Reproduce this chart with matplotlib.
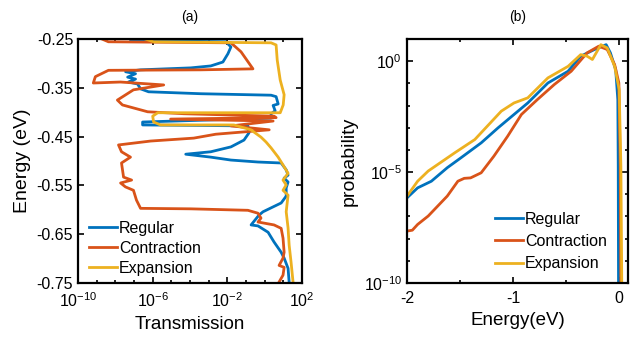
import numpy as np
import matplotlib
matplotlib.use("Agg")
import matplotlib.pyplot as plt
from matplotlib.ticker import LogLocator, NullFormatter, FixedLocator

plt.rcParams['font.family'] = ['Liberation Sans', 'DejaVu Sans']
plt.rcParams['axes.unicode_minus'] = False

# ---------------------------------------------------------
# data
# ---------------------------------------------------------
labels = ["Regular", "Contraction", "Expansion"]
colors = ["#0072BD", "#D95319", "#EDB120"]

# (a) energy (eV) vs log10(transmission)
reg_E = [-0.2525, -0.2555, -0.266, -0.280, -0.297, -0.305, -0.309, -0.311, -0.313,
         -0.317, -0.321, -0.328, -0.332, -0.338, -0.342, -0.352, -0.358, -0.362, -0.365,
         -0.368, -0.383, -0.386, -0.397, -0.403, -0.412, -0.420, -0.426, -0.427, -0.428,
         -0.442, -0.457, -0.471, -0.481, -0.486, -0.492, -0.498, -0.502, -0.504, -0.518,
         -0.529, -0.535, -0.543, -0.555, -0.572, -0.586, -0.596, -0.604, -0.611, -0.631,
         -0.633, -0.646, -0.666, -0.687, -0.699, -0.720, -0.749]
reg_logT = [-7.18, -2.08, -1.81, -1.97, -2.24, -2.89, -3.96, -5.31, -6.65,
            -7.45, -6.92, -7.34, -6.92, -7.30, -6.81, -6.65, -6.22, -3.42, 0.34,
            0.61, 0.72, 0.45, 0.56, 0.34, 0.34, -6.54, -6.54, -3.42, -0.90,
            -0.84, -1.11, -1.81, -2.89, -4.23, -2.89, -1.81, -0.36, 0.88, 1.15,
            1.25, 1.04, 1.25, 1.15, 1.15, 0.88, 0.34, -0.09, -0.31, -0.73,
            -0.36, 0.18, 0.50, 0.88, 1.04, 1.25, 1.31]

con_E = [-0.250, -0.2555, -0.2576, -0.276, -0.311, -0.313, -0.314, -0.327, -0.340,
         -0.338, -0.344, -0.354, -0.375, -0.385, -0.399, -0.403, -0.408, -0.411,
         -0.414, -0.418, -0.428, -0.436, -0.445, -0.453, -0.459, -0.467, -0.481,
         -0.492, -0.504, -0.533, -0.539, -0.545, -0.553, -0.560, -0.580, -0.597,
         -0.598, -0.601, -0.607, -0.617, -0.625, -0.631, -0.638, -0.658, -0.687,
         -0.699, -0.714, -0.718, -0.734, -0.748]
con_logT = [-8.71, -8.37, -1.81, -1.27, -0.63, -3.42, -8.37, -9.07, -9.18,
            -7.73, -5.41, -7.03, -7.89, -7.62, -6.27, -4.34, 0.50, 0.61,
            -5.04, 0.45, -1.81, 0.24, -2.62, -3.80, -6.11, -7.83, -7.67,
            -7.19, -7.67, -7.56, -7.13, -7.72, -7.46, -7.03, -6.87, -6.65,
            -3.96, -0.90, -0.36, -0.20, -0.36, 0.50, 0.88, 0.98, 1.04,
            0.98, 0.77, 1.04, 0.98, 0.77]

exp_E = [-0.250, -0.2555, -0.2576, -0.262, -0.293, -0.334, -0.364, -0.385, -0.401,
         -0.401, -0.408, -0.420, -0.426, -0.426, -0.436, -0.451, -0.461, -0.473,
         -0.492, -0.508, -0.525, -0.539, -0.549, -0.560, -0.570, -0.604, -0.637,
         -0.673, -0.707, -0.749]
exp_logT = [-6.38, -5.95, 0.34, 0.61, 0.67, 0.83, 1.04, 0.99, 0.83,
            -5.73, -6.00, -5.95, -5.58, -1.65, -0.74, -0.20, 0.07, 0.34,
            0.72, 0.98, 1.25, 0.98, 1.15, 0.98, 1.25, 1.15, 1.25,
            1.31, 1.41, 1.52]

# (b) energy (eV) vs log10(probability)
reg_x = [-2.00, -1.90, -1.77, -1.62, -1.49, -1.30, -1.14, -0.99, -0.86, -0.67,
         -0.48, -0.36, -0.23, -0.12, -0.08, -0.03, -0.01, -0.006, -0.003]
reg_logP = [-6.16, -5.71, -5.41, -4.80, -4.35, -3.68, -3.00, -2.40, -1.88, -0.98,
            -0.45, 0.23, 0.53, 0.75, 0.38, -0.38, -1.73, -4.73, -10.5]

con_x = [-2.00, -1.95, -1.90, -1.80, -1.71, -1.62, -1.52, -1.46, -1.40, -1.30,
         -1.18, -1.05, -0.92, -0.77, -0.61, -0.45, -0.30, -0.19, -0.11, -0.04,
         0.00, 0.013, 0.019]
con_logP = [-7.66, -7.62, -7.36, -6.98, -6.53, -6.08, -5.41, -5.28, -5.26, -5.03,
            -4.28, -3.38, -2.40, -1.73, -1.05, -0.45, 0.38, 0.68, 0.53, -0.15,
            -0.98, -4.73, -10.5]

exp_x = [-2.00, -1.90, -1.80, -1.55, -1.36, -1.11, -0.99, -0.86, -0.67, -0.48,
         -0.36, -0.30, -0.25, -0.17, -0.11, -0.04, 0.003, 0.019, 0.028]
exp_logP = [-6.08, -5.41, -4.95, -4.13, -3.53, -2.25, -1.88, -1.65, -0.75, -0.23,
            0.30, 0.23, 0.08, 0.75, 0.60, -0.23, -1.28, -4.73, -10.5]

# ---------------------------------------------------------
# figure
# ---------------------------------------------------------
fig = plt.figure(figsize=(6.42, 3.43), dpi=100)
ax1 = fig.add_axes([0.1215, 0.175, 0.349, 0.711])
ax2 = fig.add_axes([0.634, 0.175, 0.344, 0.711])

leg_kw = dict(frameon=False, fontsize=11.5, handlelength=1.75, handletextpad=0.1,
              borderpad=0, borderaxespad=0, loc="upper left")

left_E = [reg_E, con_E, exp_E]
left_T = [reg_logT, con_logT, exp_logT]
for E, lt, lab, c in zip(left_E, left_T, labels, colors):
    ax1.plot(10.0 ** np.array(lt), E, color=c, lw=2, label=lab)

ax1.set_xscale("log")
ax1.set_xlim(1e-10, 1e2)
ax1.set_ylim(-0.75, -0.25)
ax1.set_xticks([1e-10, 1e-6, 1e-2, 1e2])
ax1.xaxis.set_minor_locator(LogLocator(base=10, subs=[1.0], numticks=30))
ax1.xaxis.set_minor_formatter(NullFormatter())
ax1.set_yticks([-0.25, -0.35, -0.45, -0.55, -0.65, -0.75])
ax1.set_yticklabels(["-0.25", "-0.35", "-0.45", "-0.55", "-0.65", "-0.75"])
ax1.set_xlabel("Transmission", fontsize=13.5)
ax1.set_ylabel("Energy (eV)", fontsize=14)
ax1.set_title("(a)", fontsize=10, pad=13)
ax1.legend(bbox_to_anchor=(0.05, 0.255), labelspacing=0.32, **leg_kw)

right_x = [reg_x, con_x, exp_x]
right_P = [reg_logP, con_logP, exp_logP]
for x, lp, lab, c in zip(right_x, right_P, labels, colors):
    ax2.plot(x, 10.0 ** np.array(lp), color=c, lw=2, label=lab)

ax2.set_yscale("log")
ax2.set_xlim(-2, 0.085)
ax2.set_ylim(1e-10, 1e1)
ax2.set_xticks([-2, -1, 0])
ax2.set_xticklabels(["-2", "-1", "0"])
ax2.xaxis.set_minor_locator(FixedLocator([-1.5, -0.5]))
ax2.set_yticks([1e-10, 1e-5, 1e0])
ax2.yaxis.set_minor_locator(LogLocator(base=10, subs=[1.0], numticks=30))
ax2.yaxis.set_minor_formatter(NullFormatter())
ax2.set_xlabel("Energy(eV)", fontsize=13.5)
ax2.set_ylabel("probability", fontsize=14)
ax2.set_title("(b)", fontsize=10, pad=13)
ax2.legend(bbox_to_anchor=(0.40, 0.292), labelspacing=0.45, **leg_kw)

for ax in (ax1, ax2):
    for s in ax.spines.values():
        s.set_linewidth(1.6)
    ax.tick_params(which="both", direction="in", top=True, right=True,
                   labelsize=11.5, width=1.2)
    ax.tick_params(which="major", length=4)
    ax.tick_params(which="minor", length=2)
    ax.tick_params(axis="x", which="both", pad=6)

fig.savefig("out.png", dpi=100)
